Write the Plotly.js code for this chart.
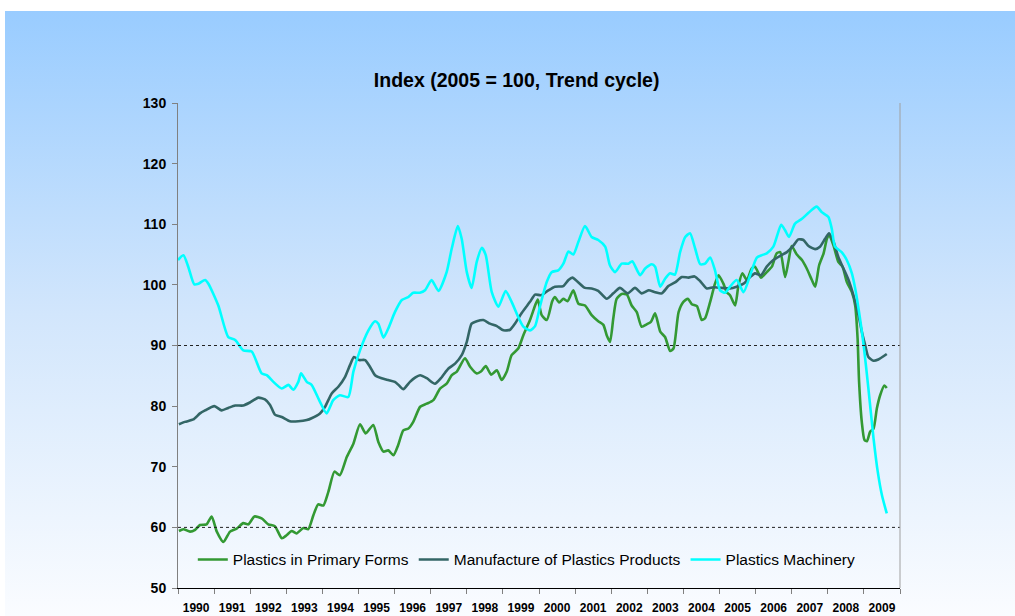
<!DOCTYPE html>
<html>
<head>
<meta charset="utf-8">
<script src="https://cdn.plot.ly/plotly-3.0.1.min.js"></script>
<style>
  html, body { margin:0; padding:0; background:#ffffff; }
  #wrap { position:relative; width:1015px; height:616px; background:#ffffff; overflow:hidden; }
  #bg { position:absolute; left:5px; top:11px; right:0; bottom:0;
        background: linear-gradient(to bottom, #99CCFF 0%, #D2E6FC 50%, #FAFCFF 100%); }
  #chart { position:absolute; left:0; top:0; width:1015px; height:616px; }
</style>
</head>
<body>
<div id="wrap"><div id="bg"></div><div id="chart"></div></div>
<script>
// Months counted from January 1990 (0 = Jan 1990)
const primaryMonths = [0.3,1.8,4,5.7,7.3,9.5,11.2,12.9,15.1,17.3,19.5,21.7,23.4,25.4,27.8,30,32.2,34.5,36.1,37.8,39.4,41.7,43.3,45,46.6,48.3,50,52,53.8,56.1,58.3,60.5,62.4,64.9,66.6,68.3,69.9,71.6,73.2,74.9,76.6,78.2,
  80.5,82.7,84.9,87.1,89.3,91,92.7,95.4,97.1,99.3,100.7,102.3,104.1,106,107.6,109.3,110.9,113.1,114.8,117,118.7,119.6,120.9,122.6,124.4,125.3,126.7,128.1,129.5,131.4,133.1,135.3,137.5,139.7,141.4,142.5,143.6,144.7,145.8,147.5,149.2,150.8,152.5,154.1,155.8,157.2,158.6,
  160.3,161.9,163.6,164.7,166.4,168,169.5,170.8,172.5,174.1,175.2,176.9,178.5,179.7,181.3,182.4,183.5,185.2,186.3,187.6,189.1,190.7,191.8,193.8,195.7,197.4,199,200.2,201.8,202.9,204,205.7,207.4,209,210.7,211.8,213.1,214.6,215.7,216.4,217.9,219.5,220.9,222.3,224,225.1,225.9,226.4,227.3,228.2,229,230.1,231.2,232.3,233.4,234.8,235.6];
const primaryValues = [59.4,59.7,59.3,59.6,60.4,60.5,61.8,59.3,57.6,59.3,59.8,60.7,60.5,61.8,61.5,60.5,60.2,58.2,58.7,59.4,59.0,59.9,59.7,62.0,63.8,63.6,65.9,69.2,68.6,71.6,73.8,77.0,75.5,76.9,74.1,72.5,72.7,71.9,73.6,76.0,76.3,77.4,
  79.9,80.4,81.0,82.9,83.7,85.1,85.7,87.9,86.5,85.4,85.7,86.6,85.2,85.9,84.3,85.7,88.4,89.5,91.7,94.2,96.6,97.6,95.0,94.2,97.3,98.0,97.1,97.7,97.3,99.1,96.9,96.6,95.0,94.0,93.4,91.7,90.6,94.5,97.7,98.5,98.4,96.6,95.5,93.1,93.5,93.9,95.3,
  92.3,91.4,89.1,89.5,95.5,97.2,97.7,96.8,96.5,94.2,94.5,97.2,100.2,101.6,100.2,98.8,98.3,96.6,99.9,101.9,100.8,102.7,103.0,101.2,102.1,103.0,105.2,105.4,101.3,103.8,106.4,105.0,104.1,102.7,100.8,99.7,103.2,105.2,107.6,108.3,106.5,103.8,103.0,100.5,98.8,96.6,91.2,84.0,77.4,74.4,74.2,75.8,76.3,79.6,81.8,83.4,83.0];

const productsMonths = [0.3,2.3,5.1,7.3,9,12.1,14.5,16.7,19,21.7,23.9,26.7,28.9,30.6,32.2,34.5,37.2,40,42.8,44.4,47.2,48.9,51.1,53.3,55.5,57.2,58.5,60.2,62.2,63.8,65.5,67.7,69.9,72.1,73.5,74.9,77.1,
  78.8,80.5,82.7,85.4,87.7,89.9,92.1,94.3,96,97.6,99.3,101.5,103.7,106,108.2,110.4,112,114.3,117,118.7,120.7,123.1,125.3,128.1,129.8,131.1,133.1,135.3,137.5,139.7,142.5,144.7,146.9,149.5,151.9,154.1,156.4,
  158.6,160.8,163,165.2,167.5,169.7,171.7,173.6,175.8,178,180.8,183.5,185.7,188,190.2,191.8,193.8,195.7,197.9,200.2,202.4,204.6,206.2,207.9,209.6,211.8,213.4,215.1,216.4,217.9,219.5,221.2,222.9,224.5,226.2,227.3,228.4,229.5,231.2,232.8,235.6];
const productsValues = [77.0,77.4,77.8,78.8,79.3,80.0,79.3,79.7,80.1,80.1,80.6,81.4,81.1,80.2,78.6,78.2,77.5,77.5,77.7,78.0,78.8,79.9,82.1,83.2,84.8,86.8,88.1,87.6,87.6,86.5,85.1,84.6,84.3,84.0,83.4,82.8,84.0,
  84.7,85.1,84.6,83.7,84.8,86.2,87.0,88.4,90.6,93.6,94.0,94.2,93.6,93.2,92.5,92.6,93.6,95.4,97.2,98.4,98.3,99.1,99.7,99.8,100.8,101.2,100.4,99.5,99.4,99.0,97.7,98.6,99.5,98.6,99.5,98.6,99.1,
  98.8,98.6,99.8,100.4,101.3,101.2,101.4,100.6,99.4,99.6,99.5,99.4,99.7,100.2,101.3,101.9,101.6,103.0,104.1,104.8,105.4,106.5,107.5,107.4,106.4,105.9,106.3,107.6,108.5,107.1,104.6,102.7,100.8,98.3,95.0,92.3,90.1,88.1,87.5,87.7,88.6];

const machineryMonths = [0,1.8,3.4,5.4,6.8,9,10.1,13.4,16.7,19,21.7,24.5,27.8,29.5,31.7,34.5,36.7,38.3,40,40.9,42.8,44.4,47.2,49.4,51.6,53.8,56.6,58.3,60.5,63.3,65.5,66.6,68.3,69.9,72.1,74.4,76.6,78.2,80.4,
  82.1,84.3,86.6,89.3,91,93,94.3,96,97.6,99.3,101,102.3,104.3,106.5,108.9,110.9,113.1,114.8,117,118.7,120.4,122.6,124.2,126.4,128.1,129.8,131.4,133.1,135.3,137.5,139.7,142,143.6,145.3,147.5,149.7,151,153.6,155.3,157.5,
  158.6,160.3,161.9,163.6,165.2,166.9,168.6,170.2,171.9,173.6,175.2,176.9,178.5,180.2,181.9,183.5,185.7,188,190.2,192.4,194.1,195.7,197.9,200.5,201.8,203.1,205.1,207.4,209.6,212.3,214,216.2,217.3,218.4,220.6,222.3,224,225.1,226.2,227.9,229.5,231.2,232.6,234,235.6];
const machineryValues = [104.1,104.9,103.0,100.1,100.2,100.8,100.2,96.6,91.4,90.9,89.2,89.0,85.4,85.1,84.0,82.9,83.5,82.7,84.0,85.4,84.0,83.5,80.7,78.8,81.0,81.8,81.5,85.7,89.2,92.5,94.0,93.6,91.3,92.8,95.5,97.5,98.0,98.7,98.7,
  99.1,100.8,99.0,102.1,106.0,109.7,107.6,102.1,99.5,103.8,106.1,104.9,98.8,96.4,99.0,97.2,94.7,93.1,92.5,93.2,96.6,100.5,102.1,102.4,103.5,105.5,105.0,107.1,109.7,107.9,107.4,106.3,103.2,102.1,103.5,103.5,103.9,101.6,102.7,103.4,
  103.0,99.7,101.0,101.9,101.7,105.4,107.9,108.5,106.0,103.4,103.5,104.5,102.4,99.1,98.7,99.7,100.8,98.8,101.6,104.5,104.9,105.2,106.3,109.9,109.0,107.9,110.1,110.9,111.9,112.9,112.0,111.2,109.3,106.3,105.4,104.1,101.9,99.4,96.1,90.1,82.9,74.7,69.2,65.3,62.3];

const years = [1990,1991,1992,1993,1994,1995,1996,1997,1998,1999,2000,2001,2002,2003,2004,2005,2006,2007,2008,2009];
const seriesNames = ['Plastics in Primary Forms','Manufacture of Plastics Products','Plastics Machinery'];
const seriesColors = ['#339933','#336666','#00FFFF'];
const refLines = [60, 90];

const toYear = m => 1990 + m / 12;
const FONT = 'Liberation Sans, Arial, Helvetica, sans-serif';

const data = [
  {x: primaryMonths.map(toYear), y: primaryValues},
  {x: productsMonths.map(toYear), y: productsValues},
  {x: machineryMonths.map(toYear), y: machineryValues}
].map((d, i) => ({
  type: 'scatter', mode: 'lines', x: d.x, y: d.y, name: seriesNames[i],
  line: {color: seriesColors[i], width: 2.6, shape: 'spline', smoothing: 0.6}
}));

const shapes = refLines.map(v => ({
  type: 'line', xref: 'paper', yref: 'y', x0: 0, x1: 1, y0: v, y1: v,
  line: {color: '#222222', width: 1, dash: 'dot'}
}));
shapes.push({type: 'line', xref: 'paper', yref: 'paper', x0: 1, x1: 1, y0: 0, y1: 1,
  line: {color: '#A0A0A0', width: 1}});

const layout = {
  width: 1015, height: 616,
  margin: {l: 178, r: 115, t: 103, b: 28},
  paper_bgcolor: 'rgba(0,0,0,0)', plot_bgcolor: 'rgba(0,0,0,0)',
  font: {family: FONT, color: '#000000'},
  title: {text: 'Index (2005 = 100, Trend cycle)', xref: 'container', x: 0.509, y: 0.870,
          xanchor: 'center', yanchor: 'middle',
          font: {family: FONT, size: 19.5, weight: 'bold', color: '#000000'}},
  showlegend: true,
  legend: {orientation: 'h', x: 0.0205, y: 0.058, xanchor: 'left', yanchor: 'middle',
           bgcolor: 'rgba(0,0,0,0)', borderwidth: 0,
           font: {family: FONT, size: 15.5, color: '#000000'}},
  xaxis: {
    range: [1990, 2010], tickmode: 'array',
    tickvals: years.map(y => y + 0.5), ticktext: years.map(String),
    ticks: 'outside', ticklen: 9, tickcolor: 'rgba(0,0,0,0)',
    tickfont: {family: FONT, size: 12, weight: 'bold', color: '#000000'},
    showline: true, linecolor: '#000000', linewidth: 1,
    showgrid: false, zeroline: false, fixedrange: true,
    minor: {tickmode: 'array', tickvals: years.concat([2010]), ticks: 'outside', ticklen: 5, tickcolor: '#808080', showgrid: false}
  },
  yaxis: {
    range: [50, 130], dtick: 10, tick0: 50,
    ticks: 'outside', ticklen: 5, tickcolor: '#808080', ticklabelstandoff: 3,
    tickfont: {family: FONT, size: 14, weight: 'bold', color: '#000000'},
    showline: true, linecolor: '#808080', linewidth: 1,
    showgrid: false, zeroline: false, fixedrange: true
  },
  shapes: shapes
};

Plotly.newPlot('chart', data, layout, {displayModeBar: false, staticPlot: true});
</script>
</body>
</html>
